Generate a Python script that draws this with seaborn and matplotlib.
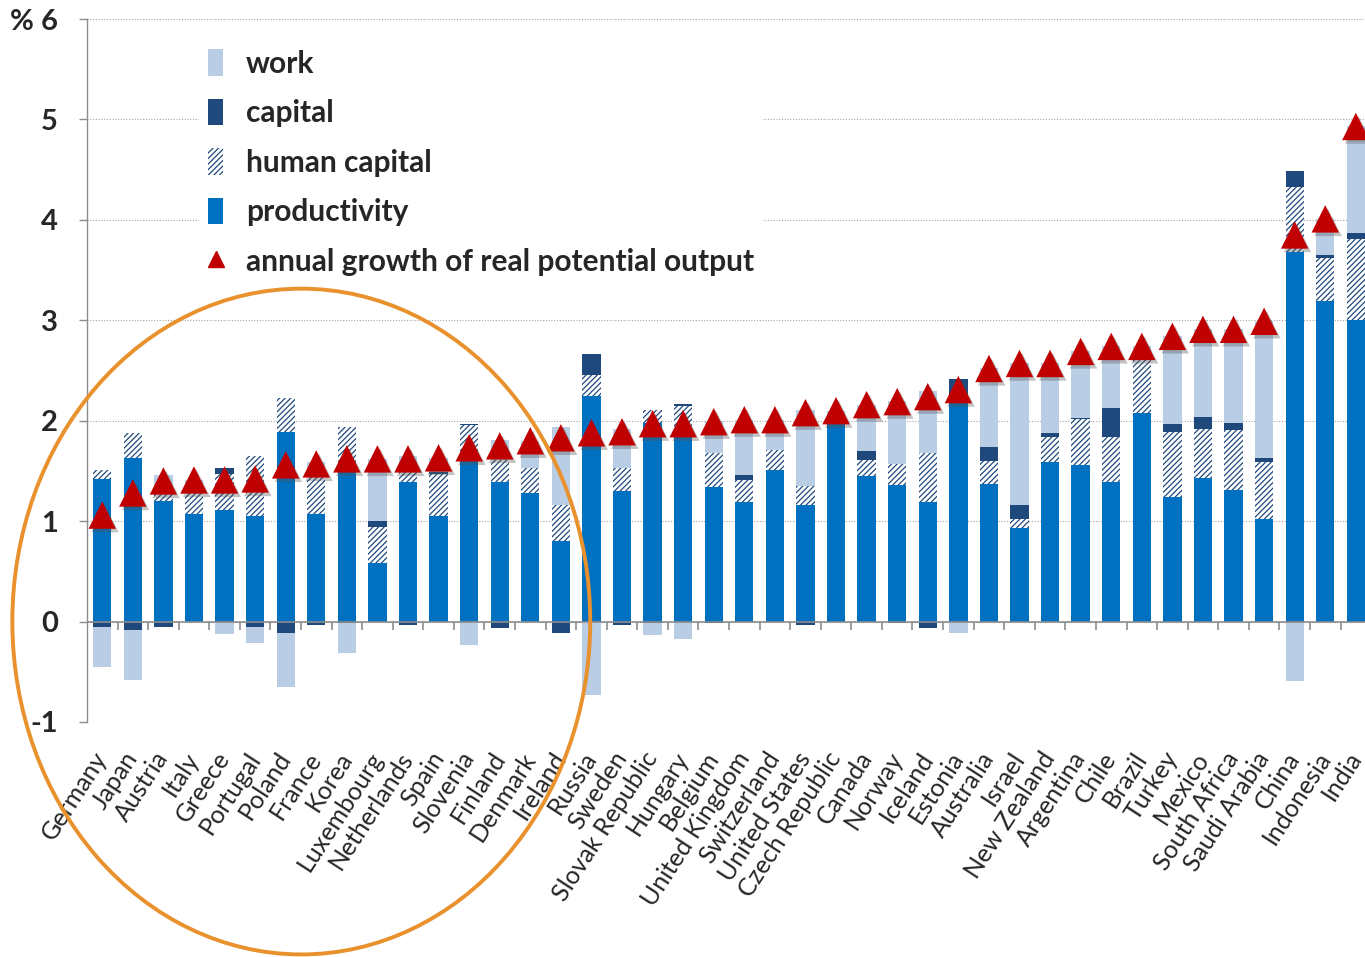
import numpy as np
import matplotlib
matplotlib.use("Agg")
import matplotlib.pyplot as plt
import matplotlib.patheffects as pe
from matplotlib.patches import Patch, Ellipse
from matplotlib.lines import Line2D
import seaborn as sns

# Contributions to annual growth of real potential output (percentage points)
countries = [
    "Germany", "Japan", "Austria", "Italy", "Greece", "Portugal", "Poland",
    "France", "Korea", "Luxembourg", "Netherlands", "Spain", "Slovenia",
    "Finland", "Denmark", "Ireland", "Russia", "Sweden", "Slovak Republic",
    "Hungary", "Belgium", "United Kingdom", "Switzerland", "United States",
    "Czech Republic", "Canada", "Norway", "Iceland", "Estonia", "Australia",
    "Israel", "New Zealand", "Argentina", "Chile", "Brazil", "Turkey",
    "Mexico", "South Africa", "Saudi Arabia", "China", "Indonesia", "India",
]
productivity = [
    1.42, 1.63, 1.20, 1.07, 1.11, 1.05, 1.89, 1.07, 1.50, 0.58, 1.39, 1.05,
    1.60, 1.39, 1.28, 0.80, 2.25, 1.30, 1.98, 1.85, 1.34, 1.19, 1.51, 1.16,
    2.00, 1.45, 1.36, 1.19, 2.19, 1.37, 0.93, 1.59, 1.56, 1.39, 2.08, 1.24,
    1.43, 1.31, 1.02, 3.68, 3.19, 3.00,
]
human_capital = [
    0.09, 0.25, 0.08, 0.22, 0.36, 0.60, 0.34, 0.37, 0.44, 0.36, 0.11, 0.42,
    0.36, 0.22, 0.25, 0.36, 0.21, 0.23, 0.13, 0.30, 0.34, 0.22, 0.20, 0.19,
    0.05, 0.16, 0.21, 0.49, 0.05, 0.23, 0.09, 0.25, 0.46, 0.45, 0.54, 0.65,
    0.49, 0.60, 0.57, 0.65, 0.43, 0.81,
]
capital = [
    -0.05, -0.08, -0.05, 0.00, 0.06, -0.05, -0.11, -0.03, -0.01, 0.06, -0.03, 0.02,
    0.01, -0.06, 0.00, -0.11, 0.20, -0.03, -0.01, 0.02, -0.01, 0.05, 0.00, -0.03,
    0.00, 0.09, -0.01, -0.06, 0.18, 0.14, 0.14, 0.04, 0.01, 0.29, 0.03, 0.08,
    0.12, 0.07, 0.04, 0.16, 0.03, 0.06,
]
work = [
    -0.40, -0.50, 0.18, 0.12, -0.12, -0.16, -0.54, 0.15, -0.30, 0.62, 0.15, 0.14,
    -0.23, 0.20, 0.27, 0.78, -0.73, 0.39, -0.12, -0.17, 0.32, 0.55, 0.30, 0.76,
    0.05, 0.46, 0.63, 0.62, -0.11, 0.78, 1.41, 0.69, 0.66, 0.61, 0.09, 0.87,
    0.87, 0.93, 1.36, -0.59, 0.36, 1.06,
]
potential_growth = [
    1.06, 1.28, 1.40, 1.41, 1.41, 1.42, 1.56, 1.57, 1.62, 1.62, 1.62, 1.63,
    1.73, 1.75, 1.80, 1.83, 1.88, 1.89, 1.97, 1.97, 1.99, 2.01, 2.01, 2.08,
    2.10, 2.16, 2.19, 2.24, 2.31, 2.52, 2.57, 2.57, 2.69, 2.74, 2.74, 2.84,
    2.91, 2.91, 2.99, 3.85, 4.01, 4.93,
]
y_ticks = [-1, 0, 1, 2, 3, 4, 5, 6]
y_tick_labels = ["-1", "0", "1", "2", "3", "4", "5", "% 6"]

BLUE = "#0070C0"
NAVY = "#1F497D"
LIGHT = "#B9CDE5"
RED = "#C00000"
GRAY = "#8C8C8C"
ORANGE = "#E8912D"
HATCH = "//////"

sns.set_theme(style="white")
plt.rcParams["font.family"] = ["Lato", "DejaVu Sans"]
plt.rcParams["hatch.color"] = NAVY
plt.rcParams["hatch.linewidth"] = 0.9

fig = plt.figure(figsize=(13.65, 9.57), dpi=100)
ax = fig.add_axes([0.0637, 0.2456, 0.9363, 0.7345])

n = len(countries)
pos_base = np.zeros(n)
neg_base = np.zeros(n)
layers = [
    (np.array(productivity), dict(color=BLUE, edgecolor=BLUE)),
    (np.array(human_capital), dict(color="white", edgecolor=NAVY, hatch=HATCH)),
    (np.array(capital), dict(color=NAVY, edgecolor=NAVY)),
    (np.array(work), dict(color=LIGHT, edgecolor=LIGHT)),
]
for values, style in layers:
    bottoms = np.where(values >= 0, pos_base, neg_base)
    sns.barplot(x=countries, y=values, bottom=bottoms, width=0.6,
                saturation=1, errorbar=None, linewidth=0, ax=ax,
                zorder=2, **style)
    pos_base = pos_base + np.clip(values, 0, None)
    neg_base = neg_base + np.clip(values, None, 0)

sns.scatterplot(x=countries, y=potential_growth, marker="^", s=390,
                color=RED, edgecolor="none", linewidth=0, zorder=5, ax=ax)
ax.collections[-1].set_path_effects([
    pe.SimplePatchShadow(offset=(2, -2.5), shadow_rgbFace="#555555", alpha=0.35),
    pe.Normal(),
])

# zero line with category separators
ax.axhline(0, color=GRAY, lw=1.2, zorder=3)
ax.vlines(np.arange(n - 1) + 0.5, -0.08, 0, color=GRAY, lw=1.2, zorder=3)

ax.set_xlim(-0.5, n - 0.7)
ax.set_ylim(-1, 6)
ax.set_yticks(y_ticks)
ax.set_yticklabels(y_tick_labels, fontsize=21, fontweight="bold")
ax.set_xticks(range(n))
ax.set_xticklabels(countries, rotation=57, ha="right", va="center",
                   rotation_mode="anchor", fontsize=18)
ax.set_xlabel("")
ax.set_ylabel("")
ax.tick_params(axis="x", length=0, pad=23)
ax.tick_params(axis="y", length=6, width=1, color=GRAY, direction="out",
               left=True, pad=15)

for side in ["top", "right", "bottom"]:
    ax.spines[side].set_visible(False)
ax.spines["left"].set_color(GRAY)
ax.spines["left"].set_linewidth(1)

ax.set_axisbelow(True)
ax.yaxis.grid(True, color="#A6A6A6", linestyle=(0, (1, 1.5)), lw=0.8)
ax.xaxis.grid(False)

handles = [
    Patch(facecolor=LIGHT, edgecolor="none", label="work"),
    Patch(facecolor=NAVY, edgecolor="none", label="capital"),
    Patch(facecolor="white", edgecolor=NAVY, hatch=HATCH, lw=0,
          label="human capital"),
    Patch(facecolor=BLUE, edgecolor="none", label="productivity"),
    Line2D([], [], marker="^", ls="none", color=RED, markersize=12,
           label="annual growth of real potential output"),
]
leg = ax.legend(handles=handles, loc="upper left",
                bbox_to_anchor=(0.088, 0.970), frameon=True,
                facecolor="white", edgecolor="none", framealpha=1,
                prop=dict(size=21.5, weight="bold"), handlelength=0.5,
                handleheight=1.0, handletextpad=0.75, labelspacing=0.7,
                borderpad=0.3, borderaxespad=0)
leg.set_zorder(4)

ax.add_patch(Ellipse((6.51, 0.0), width=18.9, height=6.63, fill=False,
                     edgecolor=ORANGE, lw=2.8, clip_on=False, zorder=6))

fig.savefig("out.png", dpi=100)
